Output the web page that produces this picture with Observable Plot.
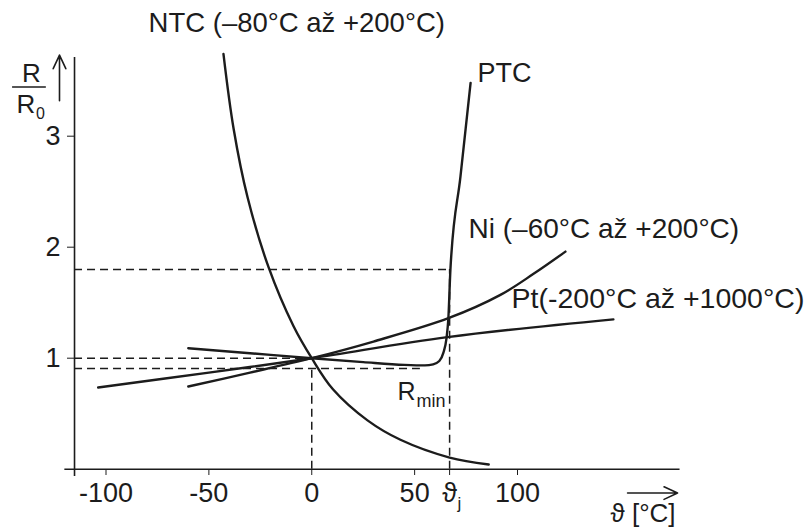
<!DOCTYPE html>
<html><head><meta charset="utf-8">
<script src="https://cdn.jsdelivr.net/npm/d3@7"></script>
<script src="https://cdn.jsdelivr.net/npm/@observablehq/plot@0.6"></script>
<style>
html,body{margin:0;padding:0;background:#fff;}
#chart svg{display:block;}
</style></head><body><div id="chart"></div>
<script>
// ---- data (temperature ϑ in °C, relative resistance R/R0) ----
const ntcT = [-42.9, -38, -31.2, -21, -8.9, 0, 10.3, 27.1, 43.1, 67, 86];
const ntcR = [3.74, 3.07, 2.45, 1.82, 1.29, 1.0, 0.72, 0.44, 0.265, 0.105, 0.042];

const ptcT = [-60, -30, 0, 25, 45, 55, 59, 62, 64, 65.5, 66.4, 67.4, 72.3, 77.2];
const ptcR = [1.09, 1.045, 1.0, 0.965, 0.94, 0.935, 0.945, 0.975, 1.05, 1.18, 1.36, 1.8, 2.64, 3.48];

const niT = [-60, -30, 0, 30, 66.4, 91.7, 107.8, 123.3];
const niR = [0.745, 0.87, 1.0, 1.15, 1.36, 1.57, 1.76, 1.96];

const ptT = [-103.8, -50, 0, 66, 146.6];
const ptR = [0.736, 0.87, 1.0, 1.19, 1.35];

const thetaJ = 67;      // ϑj
const rMin = 0.907;     // R_min level
const rJ = 1.8;         // R at ϑj
const rMinEnd = 52.8;   // end of the R_min dashed guide

const xTicks = [-100, -50, 0, 50, thetaJ, 100];
const xTickLabels = ["-100", "-50", "0", "50", "ϑ", "100"];
const yTicks = [1, 2, 3];
const yTickLabels = ["1", "2", "3"];

const seriesNames = ["NTC (–80°C až +200°C)", "PTC", "Ni (–60°C až +200°C)", "Pt(-200°C až +1000°C)"];

// ---- build tables ----
const toRows = (T, R) => T.map((t, i) => ({t, r: R[i]}));
const ntc = toRows(ntcT, ntcR);
const ptc = toRows(ptcT, ptcR);
const ni = toRows(niT, niR);
const pt = toRows(ptT, ptR);

const axisXLeft = -120, axisXRight = 179;   // horizontal axis extent (°C)
const axisYPos = -115.3;                    // vertical axis position (°C)
const axisYBottom = -0.066, axisYTop = 3.71;

const hDashes = [
  {y: rJ, x1: axisYPos, x2: thetaJ},
  {y: 1, x1: axisYPos, x2: 0},
  {y: rMin, x1: axisYPos, x2: rMinEnd}
];
const vDashes = [
  {x: 0, y1: 0, y2: rMin},
  {x: thetaJ, y1: 0, y2: rJ}
];

const ink = "#1c1c1c";
const font = "'Liberation Sans', Arial, Helvetica, sans-serif";
const lbl = (x, y, t, fontSize) => Plot.text([{x, y, t}], {x: "x", y: "y", text: "t", textAnchor: "start", lineAnchor: "bottom", fontSize, fill: ink});

const chart = Plot.plot({
  width: 808,
  height: 527,
  marginLeft: 74,
  marginBottom: 58,
  marginTop: 20,
  marginRight: 20,
  style: {fontFamily: font, background: "white", overflow: "visible", color: ink},
  x: {domain: [-100, 100], range: [105.5, 517]},
  y: {domain: [0, 3], range: [468.7, 135.7]},
  marks: [
    // dashed guides
    Plot.ruleY(hDashes, {y: "y", x1: "x1", x2: "x2", stroke: ink, strokeWidth: 1.5, strokeDasharray: "8,5"}),
    Plot.ruleX(vDashes, {x: "x", y1: "y1", y2: "y2", stroke: ink, strokeWidth: 1.5, strokeDasharray: "8,5"}),
    // axes lines
    Plot.ruleY([0], {x1: axisXLeft, x2: axisXRight, stroke: ink, strokeWidth: 1.6}),
    Plot.ruleX([axisYPos], {y1: axisYBottom, y2: axisYTop, stroke: ink, strokeWidth: 1.6}),
    Plot.axisX({ticks: xTicks, tickFormat: d => xTickLabels[xTicks.indexOf(d)], tickSize: 6, tickPadding: 7, fontSize: 27, label: null, color: ink}),
    Plot.axisY({ticks: yTicks, tickFormat: d => yTickLabels[yTicks.indexOf(d)], tickSize: 7, tickPadding: 7, fontSize: 27, label: null, color: ink}),
    // curves
    Plot.line(ntc, {x: "t", y: "r", curve: "catmull-rom", stroke: ink, strokeWidth: 2.4}),
    Plot.line(ptc, {x: "t", y: "r", curve: "monotone-x", stroke: ink, strokeWidth: 2.4}),
    Plot.line(ni, {x: "t", y: "r", curve: "catmull-rom", stroke: ink, strokeWidth: 2.4}),
    Plot.line(pt, {x: "t", y: "r", curve: "catmull-rom", stroke: ink, strokeWidth: 2.4}),
    // series labels
    lbl(-79.3, 3.943, seriesNames[0], 27.5),
    lbl(80.5, 3.484, seriesNames[1], 27),
    lbl(76.2, 2.079, seriesNames[2], 28),
    lbl(97.1, 1.448, seriesNames[3], 28.5),
    // R_min, ϑj subscript, axis title
    lbl(41.7, 0.619, "R", 25),
    lbl(50.9, 0.556, "min", 18),
    lbl(70.8, -0.363, "j", 17),
    lbl(145.2, -0.48, "ϑ [°C]", 26),
    // R / R0 axis label
    lbl(-140.8, 3.49, "R", 26),
    lbl(-143.5, 3.205, "R", 26),
    lbl(-134, 3.155, "0", 16),
    Plot.ruleY([{y: 3.443, x1: -145.4, x2: -129}], {y: "y", x1: "x1", x2: "x2", stroke: ink, strokeWidth: 1.4}),
    // arrows
    Plot.arrow([{x1: -122.6, y1: 3.32, x2: -122.6, y2: 3.73}], {x1: "x1", y1: "y1", x2: "x2", y2: "y2", stroke: ink, strokeWidth: 1.6, headLength: 14, headAngle: 50}),
    Plot.arrow([{x1: 153.5, y1: -0.215, x2: 177.8, y2: -0.215}], {x1: "x1", y1: "y1", x2: "x2", y2: "y2", stroke: ink, strokeWidth: 1.6, headLength: 14, headAngle: 50})
  ]
});
document.getElementById("chart").appendChild(chart);
</script>
</body></html>
